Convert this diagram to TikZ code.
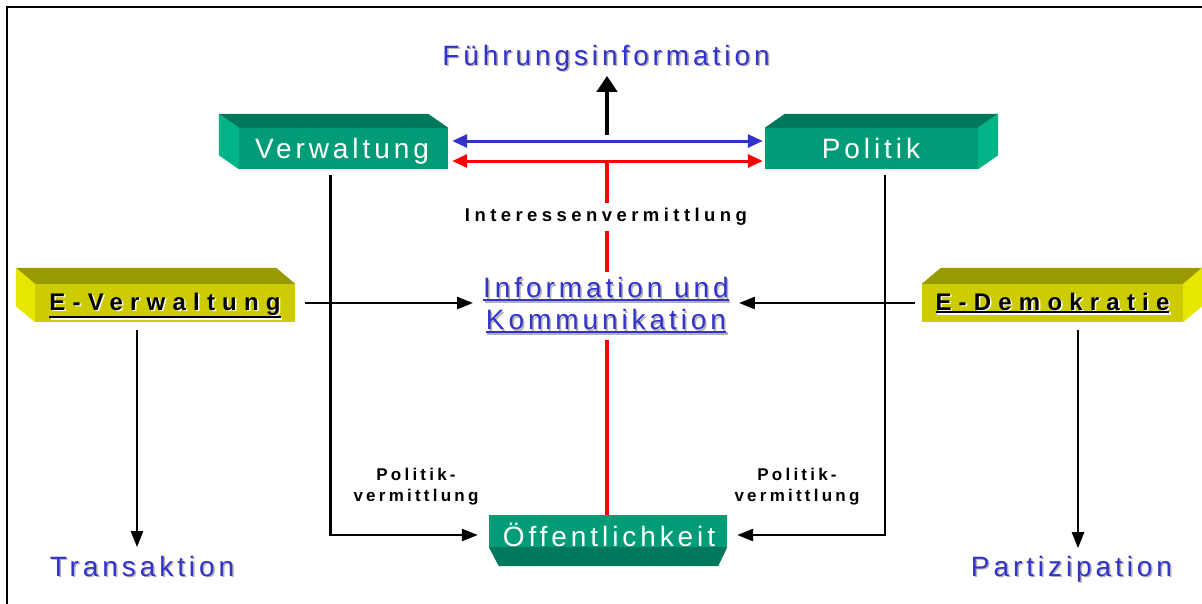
\documentclass[tikz,border=0pt]{standalone}
\usepackage{fontspec}
\setmainfont{Liberation Sans}
\newfontfamily\boxfont[LetterSpace=14]{Liberation Sans}
\newfontfamily\wideboldfont[LetterSpace=30]{Liberation Sans}
\newfontfamily\midboldfont[LetterSpace=24]{Liberation Sans}
\newfontfamily\smallboldfont[LetterSpace=19]{Liberation Sans}
\usetikzlibrary{arrows.meta,calc}

\definecolor{grfront}{RGB}{0,155,119}
\definecolor{grtop}{RGB}{0,120,92}
\definecolor{grside}{RGB}{0,180,136}
\definecolor{yefront}{RGB}{204,204,0}
\definecolor{yetop}{RGB}{153,153,0}
\definecolor{yeside}{RGB}{230,230,0}
\definecolor{lblblue}{RGB}{51,51,204}

\newcommand{\shadowtxt}[2][black!30]{\makebox[0pt][l]{\kern1.5pt\raisebox{-1.5pt}{\textcolor{#1}{#2}}}#2}
\newcommand{\thickul}[1]{\setbox0=\hbox{#1}\rlap{\copy0}\raisebox{\dimexpr-\dp0-3pt\relax}{\rule{\wd0}{2.5pt}}}

\tikzset{
  greenbox/.style={fill=grfront, inner sep=0pt, minimum height=41pt},
  yellowbox/.style={fill=yefront, inner sep=0pt, minimum height=38pt},
  boxtext/.style={anchor=base, text=white, font=\boxfont\fontsize{28}{32}\selectfont},
  bluetext/.style={anchor=base, text=lblblue, font=\boxfont\fontsize{28}{32}\selectfont},
  etext/.style={anchor=base, font=\wideboldfont\bfseries\fontsize{24}{28}\selectfont},
  smalltext/.style={align=center, font=\smallboldfont\bfseries\fontsize{17}{21}\selectfont},
  conn/.style={->, line width=2.5pt},
  biarrow/.style={<->, line width=3pt, >={Triangle[length=15pt,width=13pt]}, shorten <=4pt, shorten >=2pt},
  redline/.style={red, line width=4.5pt}
}

\begin{document}
\begin{tikzpicture}[x=1pt,y=-1pt,>={Triangle[length=16pt,width=12pt]}]
\useasboundingbox (0,0) rectangle (1202,603);

% Frame
\draw[line width=2.5pt] (7,610) -- (7,7) -- (1210,7);

% Boxes (front faces)
\node[greenbox, minimum width=209pt] (verw) at (343.5,148.5) {};
\node[greenbox, minimum width=213pt] (pol) at (871.5,148.5) {};
\node[greenbox, minimum width=238pt, minimum height=32pt] (oeff) at (608,531) {};
\node[yellowbox, minimum width=260pt] (ever) at (165,303) {};
\node[yellowbox, minimum width=261pt] (edem) at (1052.5,303) {};

% Top and side faces
\foreach \b/\s/\dx in {verw/west/-20, pol/east/20} {
  \fill[grtop] (\b.north west) -- ++(\dx,-14) -- ($(\b.north east)+(\dx,-14)$) -- (\b.north east) -- cycle;
  \fill[grside] (\b.north \s) -- ++(\dx,-14) -- ($(\b.south \s)+(\dx,-14)$) -- (\b.south \s) -- cycle;
}
\foreach \b/\s/\dx in {ever/west/-19, edem/east/19} {
  \fill[yetop] (\b.north west) -- ++(\dx,-16) -- ($(\b.north east)+(\dx,-16)$) -- (\b.north east) -- cycle;
  \fill[yeside] (\b.north \s) -- ++(\dx,-16) -- ($(\b.south \s)+(\dx,-16)$) -- (\b.south \s) -- cycle;
}
\fill[grtop] (oeff.south west) -- (oeff.south east) -- ++(-9,19) -- ($(oeff.south west)+(10,19)$) -- cycle;

% Red line and double arrows
\coordinate (hub) at (607,161);
\draw[redline] (hub) -- (hub |- oeff.north);
\draw[biarrow, lblblue] ([yshift=7.5pt]verw.east) -- ([yshift=7.5pt]pol.west);
\draw[biarrow, red] ([yshift=-12.5pt]verw.east) -- ([yshift=-12.5pt]pol.west);

% Box texts
\node[boxtext] (verwtxt) at (342,158.5) {Verwaltung};
\node[boxtext] (poltxt) at (871,158.5) {Politik};
\node[boxtext] (oefftxt) at (609,546) {Öffentlichkeit};
\node[etext] (evtxt) at (165,310) {\shadowtxt[white]{\thickul{E-Verwaltung}}};
\node[etext] (edtxt) at (1052.5,310) {\shadowtxt[white]{\thickul{E-Demokratie}}};

% Labels
\node[bluetext] (fuehr) at (606,65) {\shadowtxt{Führungsinformation}};
\node[fill=white, inner sep=5pt, font=\midboldfont\bfseries\fontsize{18.5}{22}\selectfont] (interm) at (606,217) {Interessenvermittlung};
\node[fill=white, inner xsep=10pt, inner ysep=5pt, align=center, text=lblblue,
  font=\boxfont\fontsize{28}{32}\selectfont] (info) at (606,306)
  {\shadowtxt{\thickul{Information und}}\\\shadowtxt{\thickul{Kommunikation}}};
\node[smalltext] (pvl) at (416,487) {Politik-\\vermittlung};
\node[smalltext] (pvr) at (797,487) {Politik-\\vermittlung};
\node[bluetext] (trans) at (142,576) {\shadowtxt{Transaktion}};
\node[bluetext] (partz) at (1071.5,576) {\shadowtxt{Partizipation}};

% Connectors
\coordinate (fbase) at (607,135);
\draw[line width=4pt, -{Triangle[length=16pt,width=20pt]}] (fbase) -- (fbase |- fuehr.south);
\draw[conn, shorten <=10pt] (ever.east) -- (ever.east -| info.west);
\draw[conn, shorten <=7pt] (edem.west) -- (edem.west -| info.east);
\draw[conn, shorten <=6pt, shorten >=11pt] ([xshift=-13pt]verw.south) |- ([yshift=-4pt]oeff.west);
\draw[conn, shorten <=6pt, shorten >=10pt] ([xshift=13.5pt]pol.south) |- ([yshift=-4pt]oeff.east);
\draw[conn, shorten <=8pt, shorten >=5pt] ([xshift=-28pt]ever.south) -- ([xshift=-28pt]ever.south |- trans.north);
\draw[conn, shorten <=8pt, shorten >=4pt] ([xshift=25.5pt]edem.south) -- ([xshift=25.5pt]edem.south |- partz.north);

\end{tikzpicture}
\end{document}
